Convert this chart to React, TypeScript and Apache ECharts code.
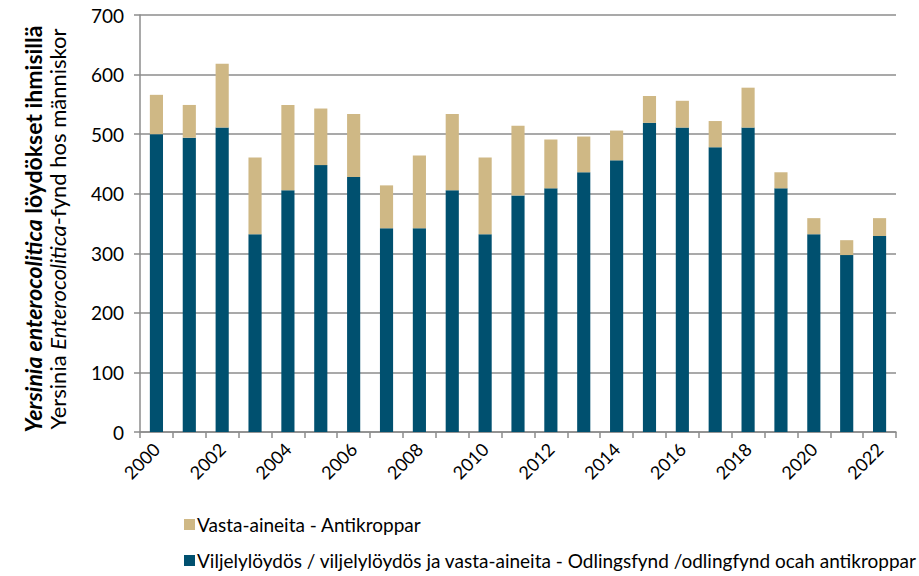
import React, { useEffect, useRef } from "react";
import * as echarts from "echarts";

const years = ["2000","2001","2002","2003","2004","2005","2006","2007","2008","2009","2010","2011","2012","2013","2014","2015","2016","2017","2018","2019","2020","2021","2022"];
const cultureFindings = [500,494,511,332,406,448,428,342,342,406,332,397,409,436,456,519,511,478,511,409,332,297,329];
const antibodyFindings = [66,55,107,129,143,95,106,72,122,128,129,117,82,60,50,45,45,44,67,27,27,25,30];
const yTicks = { min: 0, max: 700, interval: 100 };
const seriesNames = [
  "Vasta-aineita - Antikroppar",
  "Viljelylöydös / viljelylöydös ja vasta-aineita - Odlingsfynd /odlingfynd ocah antikroppar",
];

const FONT = "Lato";
const BLUE = "#00506F";
const TAN = "#CFB885";
const GRID = "#8C8C8C";

export default function App() {
  const ref = useRef<HTMLDivElement>(null);
  useEffect(() => {
    if (!ref.current) return;
    const chart = echarts.init(ref.current, null, { renderer: "svg" });
    chart.setOption({
      animation: false,
      backgroundColor: "#fff",
      textStyle: { fontFamily: FONT },
      grid: { left: 140, right: 23, top: 15, bottom: 144, containLabel: false },
      xAxis: {
        type: "category",
        data: years,
        boundaryGap: true,
        axisLine: { lineStyle: { color: GRID, width: 1.5 } },
        axisTick: { show: true, interval: 0, length: 6, lineStyle: { color: GRID, width: 1.5 } },
        axisLabel: { interval: 1, rotate: 45, fontSize: 18, color: "#000", fontFamily: FONT, margin: 14 },
      },
      yAxis: {
        type: "value",
        min: yTicks.min,
        max: yTicks.max,
        interval: yTicks.interval,
        axisLine: { show: true, lineStyle: { color: GRID, width: 1.5 } },
        axisTick: { show: true, length: 6, lineStyle: { color: GRID, width: 1.5 } },
        axisLabel: { fontSize: 19, color: "#000", fontFamily: FONT, margin: 16 },
        splitLine: { lineStyle: { color: GRID, width: 1.5 } },
      },
      legend: {
        orient: "vertical",
        left: 179,
        top: 510,
        itemWidth: 11,
        itemHeight: 11,
        itemGap: 17,
        icon: "rect",
        data: [seriesNames[0], seriesNames[1]],
        textStyle: { fontSize: 19, color: "#000", fontFamily: FONT, padding: [0, 0, 0, -3] },
      },
      series: [
        {
          name: seriesNames[1],
          type: "bar",
          stack: "total",
          data: cultureFindings,
          barWidth: "40%",
          itemStyle: { color: BLUE },
        },
        {
          name: seriesNames[0],
          type: "bar",
          stack: "total",
          data: antibodyFindings,
          barWidth: "40%",
          itemStyle: { color: TAN },
        },
      ],
      graphic: [
        {
          type: "text",
          x: 45,
          y: 229,
          rotation: Math.PI / 2,
          style: {
            text: "{bi|Yersinia enterocolitica}{b| löydökset ihmisillä}\n{n|Yersinia }{i|Enterocolitica}{n|-fynd hos människor}",
            align: "center",
            verticalAlign: "middle",
            fill: "#000",
            rich: {
              bi: { fontFamily: FONT, fontSize: 23, fontWeight: "bold", fontStyle: "italic", lineHeight: 24 },
              b: { fontFamily: FONT, fontSize: 23, fontWeight: "bold", lineHeight: 24 },
              n: { fontFamily: FONT, fontSize: 22, lineHeight: 24 },
              i: { fontFamily: FONT, fontSize: 22, fontStyle: "italic", lineHeight: 24 },
            },
          },
        },
      ],
    });
    return () => chart.dispose();
  }, []);
  return (
    <div
      ref={ref}
      style={{ position: "fixed", left: 0, top: 0, width: 919, height: 576 }}
    />
  );
}
